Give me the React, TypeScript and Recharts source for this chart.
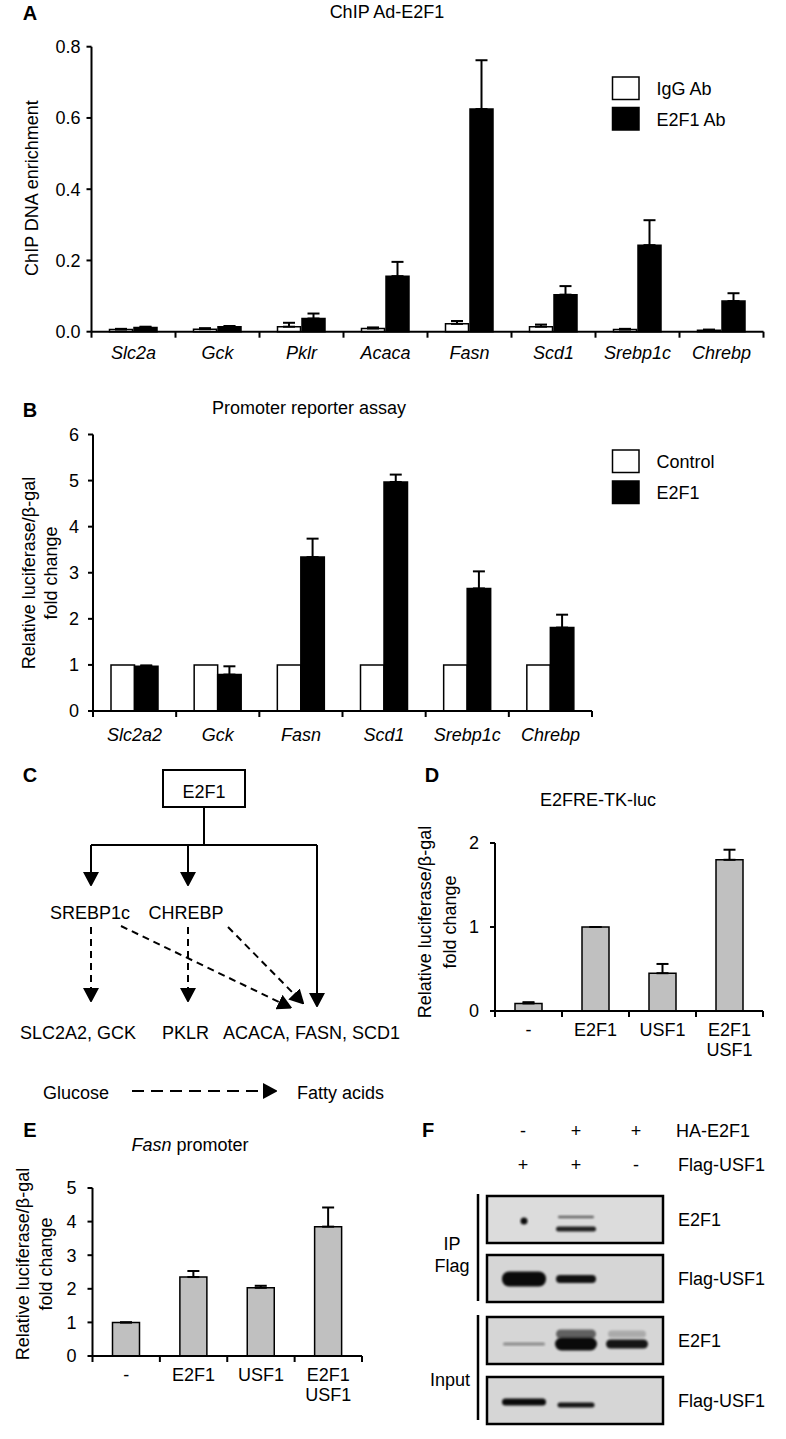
import React from 'react'
import { BarChart, Bar, XAxis, YAxis, ErrorBar } from 'recharts'

const FONT = '"Liberation Sans", Arial, Helvetica, sans-serif'

// A: ChIP Ad-E2F1
const chipGenes = ['Slc2a', 'Gck', 'Pklr', 'Acaca', 'Fasn', 'Scd1', 'Srebp1c', 'Chrebp']
const chipIgg = [0.006, 0.007, 0.014, 0.009, 0.022, 0.014, 0.006, 0.004]
const chipIggErr = [0.002, 0.003, 0.011, 0.003, 0.008, 0.006, 0.002, 0.002]
const chipE2f1 = [0.012, 0.014, 0.037, 0.156, 0.625, 0.104, 0.243, 0.086]
const chipE2f1Err = [0.002, 0.002, 0.014, 0.04, 0.137, 0.024, 0.07, 0.022]
const chipTicks = [0, 0.2, 0.4, 0.6, 0.8]
const chipSeries = ['IgG Ab', 'E2F1 Ab']

// B: promoter reporter assay
const repGenes = ['Slc2a2', 'Gck', 'Fasn', 'Scd1', 'Srebp1c', 'Chrebp']
const repControl = [1, 1, 1, 1, 1, 1]
const repE2f1 = [0.97, 0.79, 3.34, 4.97, 2.66, 1.81]
const repE2f1Err = [0.02, 0.18, 0.4, 0.16, 0.37, 0.28]
const repTicks = [0, 1, 2, 3, 4, 5, 6]
const repSeries = ['Control', 'E2F1']

// D: E2FRE-TK-luc
const groups = ['-', 'E2F1', 'USF1', 'E2F1\nUSF1']
const tkValues = [0.09, 1.0, 0.45, 1.8]
const tkErr = [0.015, 0, 0.11, 0.12]
const tkTicks = [0, 1, 2]

// E: Fasn promoter
const fasnValues = [1.0, 2.35, 2.03, 3.85]
const fasnErr = [0, 0.18, 0.06, 0.57]
const fasnTicks = [0, 1, 2, 3, 4, 5]

// F: co-IP
const haE2f1 = ['-', '+', '+']
const flagUsf1 = ['+', '+', '-']
const blotLabels = ['E2F1', 'Flag-USF1', 'E2F1', 'Flag-USF1']
// band signal per blot: lane, offset in blot, thickness, width, darkness
const blotBands = [
  [
    { lane: 0, dy: 25, h: 7, w: 7, k: 0.95 },
    { lane: 1, dy: 21, h: 2.5, w: 36, k: 0.55 },
    { lane: 1, dy: 33, h: 5, w: 40, k: 0.85 },
  ],
  [
    { lane: 0, dy: 24, h: 15, w: 44, k: 0.95 },
    { lane: 1, dy: 24, h: 8, w: 40, k: 0.92 },
  ],
  [
    { lane: 0, dy: 27, h: 3, w: 42, k: 0.35 },
    { lane: 1, dy: 17, h: 9, w: 40, k: 0.55 },
    { lane: 1, dy: 27, h: 13, w: 42, k: 0.95 },
    { lane: 2, dy: 17, h: 7, w: 38, k: 0.2 },
    { lane: 2, dy: 27, h: 9, w: 42, k: 0.9 },
  ],
  [
    { lane: 0, dy: 25, h: 7, w: 44, k: 0.95 },
    { lane: 1, dy: 28, h: 5, w: 37, k: 0.9 },
  ],
]

const chipData = chipGenes.map((g, i) => ({
  gene: g, igg: chipIgg[i], iggErr: [0, chipIggErr[i]], e2f1: chipE2f1[i], e2f1Err: [0, chipE2f1Err[i]],
}))
const repData = repGenes.map((g, i) => ({
  gene: g, control: repControl[i], e2f1: repE2f1[i], e2f1Err: [0, repE2f1Err[i]],
}))
const tkData = groups.map((g, i) => ({ group: g, v: tkValues[i], err: [0, tkErr[i]] }))
const fasnData = groups.map((g, i) => ({ group: g, v: fasnValues[i], err: [0, fasnErr[i]] }))

type Box = { left: number; top: number; width: number; height: number; x0: number; x1: number; yTop: number; yBottom: number }

const boxA: Box = { left: 0, top: 0, width: 786, height: 372, x0: 91.5, x1: 763.5, yTop: 46.7, yBottom: 331.7 }
const boxB: Box = { left: 0, top: 380, width: 600, height: 372, x0: 93, x1: 592, yTop: 434.5, yBottom: 711 }
const boxD: Box = { left: 400, top: 820, width: 386, height: 250, x0: 495, x1: 763, yTop: 843, yBottom: 1011 }
const boxE: Box = { left: 0, top: 1170, width: 400, height: 250, x0: 92.5, x1: 362, yTop: 1188, yBottom: 1356 }

const frame = (b: Box) => ({
  margin: { top: b.yTop - b.top, right: b.left + b.width - b.x1, bottom: 0, left: 0 },
  yWidth: b.x0 - b.left,
  xHeight: b.top + b.height - b.yBottom,
})

const axisStyle = { stroke: '#000', strokeWidth: 2 }

const makeTick = (b: Box, n: number, italic: boolean, labelDy: number) => (props: any) => {
  const { x, index, payload } = props
  const half = (b.x1 - b.x0) / n / 2
  const bottom = b.yBottom - b.top
  const lines = String(payload.value).split('\n')
  return (
    <g>
      <line x1={x - half} x2={x - half} y1={bottom} y2={bottom + 6} stroke="#000" strokeWidth={2} />
      {index === n - 1 && <line x1={x + half} x2={x + half} y1={bottom} y2={bottom + 6} stroke="#000" strokeWidth={2} />}
      <text x={x} y={bottom + labelDy} textAnchor="middle" fontFamily={FONT} fontSize={18} fontStyle={italic ? 'italic' : 'normal'} fill="#000">
        {lines.map((l, i) => (
          <tspan key={i} x={x} dy={i === 0 ? 0 : 20}>{l}</tspan>
        ))}
      </text>
    </g>
  )
}

function ChipChart() {
  const f = frame(boxA)
  return (
    <div style={{ position: 'absolute', left: boxA.left, top: boxA.top }}>
      <BarChart width={boxA.width} height={boxA.height} data={chipData} margin={f.margin} barSize={23} barGap={1.5}>
        <XAxis dataKey="gene" height={f.xHeight} axisLine={axisStyle} tickLine={false} tickSize={0} interval={0}
          tick={makeTick(boxA, chipGenes.length, true, 27)} />
        <YAxis width={f.yWidth} domain={[0, 0.8]} ticks={chipTicks} tickFormatter={(v: number) => v.toFixed(1)}
          axisLine={axisStyle} tickLine={axisStyle} tickSize={5} tickMargin={6}
          tick={{ fill: '#000', fontSize: 18, fontFamily: FONT }} />
        <Bar dataKey="igg" fill="#fff" stroke="#000" strokeWidth={1.5} isAnimationActive={false}>
          <ErrorBar dataKey="iggErr" width={6} stroke="#000" strokeWidth={2} direction="y" />
        </Bar>
        <Bar dataKey="e2f1" fill="#000" stroke="#000" strokeWidth={1.5} isAnimationActive={false}>
          <ErrorBar dataKey="e2f1Err" width={6} stroke="#000" strokeWidth={2} direction="y" />
        </Bar>
      </BarChart>
    </div>
  )
}

function ReporterChart() {
  const f = frame(boxB)
  return (
    <div style={{ position: 'absolute', left: boxB.left, top: boxB.top }}>
      <BarChart width={boxB.width} height={boxB.height} data={repData} margin={f.margin} barSize={23.5} barGap={0}>
        <XAxis dataKey="gene" height={f.xHeight} axisLine={axisStyle} tickLine={false} tickSize={0} interval={0}
          tick={makeTick(boxB, repGenes.length, true, 30)} />
        <YAxis width={f.yWidth} domain={[0, 6]} ticks={repTicks}
          axisLine={axisStyle} tickLine={axisStyle} tickSize={5} tickMargin={9}
          tick={{ fill: '#000', fontSize: 18, fontFamily: FONT }} />
        <Bar dataKey="control" fill="#fff" stroke="#000" strokeWidth={1.5} isAnimationActive={false} />
        <Bar dataKey="e2f1" fill="#000" stroke="#000" strokeWidth={1.5} isAnimationActive={false}>
          <ErrorBar dataKey="e2f1Err" width={6} stroke="#000" strokeWidth={2} direction="y" />
        </Bar>
      </BarChart>
    </div>
  )
}

function GrayChart({ box, data, ticks, max }: { box: Box; data: any[]; ticks: number[]; max: number }) {
  const f = frame(box)
  return (
    <div style={{ position: 'absolute', left: box.left, top: box.top }}>
      <BarChart width={box.width} height={box.height} data={data} margin={f.margin} barSize={27}>
        <XAxis dataKey="group" height={f.xHeight} axisLine={axisStyle} tickLine={false} tickSize={0} interval={0}
          tick={makeTick(box, groups.length, false, 25)} />
        <YAxis width={f.yWidth} domain={[0, max]} ticks={ticks}
          axisLine={axisStyle} tickLine={axisStyle} tickSize={5} tickMargin={11}
          tick={{ fill: '#000', fontSize: 18, fontFamily: FONT }} />
        <Bar dataKey="v" fill="#c0c0c0" stroke="#000" strokeWidth={1.5} isAnimationActive={false}>
          <ErrorBar dataKey="err" width={6} stroke="#000" strokeWidth={2} direction="y" />
        </Bar>
      </BarChart>
    </div>
  )
}

const T = (p: any) => <text fontFamily={FONT} fontSize={18} fill="#000" {...p} />
const Letter = ({ x, y, c }: { x: number; y: number; c: string }) => (
  <text x={x} y={y + 7} textAnchor="middle" fontFamily={FONT} fontSize={20} fontWeight="bold">{c}</text>
)

function YLabel({ x1, x2, y }: { x1: number; x2: number; y: number }) {
  return (
    <>
      <T x={x1} y={y} textAnchor="middle" transform={`rotate(-90 ${x1} ${y})`}>Relative luciferase/β-gal</T>
      <T x={x2} y={y} textAnchor="middle" transform={`rotate(-90 ${x2} ${y})`}>fold change</T>
    </>
  )
}

function Legend({ x, ys, names }: { x: number; ys: number[]; names: string[] }) {
  return (
    <>
      {names.map((n, i) => (
        <g key={n}>
          <rect x={x} y={ys[i]} width={26.5} height={22.5} fill={i === 0 ? '#fff' : '#000'} stroke="#000" strokeWidth={1.5} />
          <T x={x + 44} y={ys[i] + 18}>{n}</T>
        </g>
      ))}
    </>
  )
}

function Diagram() {
  const solid = { stroke: '#000', strokeWidth: 2, fill: 'none' }
  const dash = { ...solid, strokeDasharray: '7 5' }
  return (
    <g>
      <rect x={163} y={770} width={82} height={37} fill="#fff" stroke="#000" strokeWidth={2} />
      <T x={204} y={797.5} textAnchor="middle">E2F1</T>
      <path d="M204,807 V845 M91,845 H317" {...solid} />
      <path d="M91,845 V872" {...solid} markerEnd="url(#arr)" />
      <path d="M188,845 V872" {...solid} markerEnd="url(#arr)" />
      <path d="M317,845 V993" {...solid} markerEnd="url(#arr)" />
      <T x={90} y={918.5} textAnchor="middle">SREBP1c</T>
      <T x={186} y={918.5} textAnchor="middle">CHREBP</T>
      <path d="M91,927 V988" {...dash} markerEnd="url(#arr)" />
      <path d="M188,927 V988" {...dash} markerEnd="url(#arr)" />
      <path d="M121,926 L279,1002" {...dash} markerEnd="url(#arr)" />
      <path d="M228,927 L294,994" {...dash} markerEnd="url(#arr)" />
      <T x={20} y={1038.5}>SLC2A2, GCK</T>
      <T x={162} y={1038.5}>PKLR</T>
      <T x={223} y={1038.5}>ACACA, FASN, SCD1</T>
      <T x={43} y={1098.5}>Glucose</T>
      <path d="M132,1091 H263" stroke="#000" strokeWidth={2} strokeDasharray="12 7" markerEnd="url(#arr)" />
      <T x={297} y={1098.5}>Fatty acids</T>
    </g>
  )
}

function Blots() {
  const laneX = [524, 576, 627]
  const headX = [523, 576, 636]
  const tops = [1196, 1255, 1317, 1377]
  return (
    <g>
      {haE2f1.map((s, i) => <T key={'h' + i} x={headX[i]} y={1136.5} textAnchor="middle">{s}</T>)}
      {flagUsf1.map((s, i) => <T key={'f' + i} x={headX[i]} y={1170.5} textAnchor="middle">{s}</T>)}
      <T x={676} y={1136.5}>HA-E2F1</T>
      <T x={678} y={1170.5}>Flag-USF1</T>
      {tops.map((t, r) => (
        <g key={r}>
          <rect x={487} y={t} width={176} height={47} fill={r === 0 ? '#dcdcdc' : '#d6d6d6'} stroke="#000" strokeWidth={2.5} />
          {blotBands[r].map((b, j) => (
            <rect key={j} x={laneX[b.lane] - b.w / 2} y={t + b.dy - b.h / 2} width={b.w} height={b.h} rx={Math.min(b.h / 2, 7)}
              fill="#000" opacity={b.k} filter="url(#blur)" />
          ))}
          <T x={678} y={t + 30}>{blotLabels[r]}</T>
        </g>
      ))}
      <line x1={478} x2={478} y1={1194} y2={1301} stroke="#000" strokeWidth={2.5} />
      <line x1={478} x2={478} y1={1315} y2={1420} stroke="#000" strokeWidth={2.5} />
      <T x={452} y={1249.5} textAnchor="middle">IP</T>
      <T x={452} y={1271.5} textAnchor="middle">Flag</T>
      <T x={450} y={1385.5} textAnchor="middle">Input</T>
    </g>
  )
}

function Overlay() {
  return (
    <svg width={786} height={1439} style={{ position: 'absolute', left: 0, top: 0, pointerEvents: 'none' }}>
      <defs>
        <marker id="arr" viewBox="0 0 14 16" refX={0} refY={8} markerWidth={14} markerHeight={16} markerUnits="userSpaceOnUse" orient="auto">
          <path d="M0,0 L15,8 L0,16 z" fill="#000" />
        </marker>
        <filter id="blur" x="-20%" y="-50%" width="140%" height="200%">
          <feGaussianBlur stdDeviation={1.2} />
        </filter>
      </defs>
      <Letter x={30} y={13} c="A" />
      <T x={387} y={17.5} textAnchor="middle">ChIP Ad-E2F1</T>
      <T x={37.5} y={188} textAnchor="middle" transform="rotate(-90 37.5 188)">ChIP DNA enrichment</T>
      <Legend x={612.5} ys={[77, 107.5]} names={chipSeries} />

      <Letter x={30} y={410} c="B" />
      <T x={309} y={414} textAnchor="middle">Promoter reporter assay</T>
      <YLabel x1={35} x2={57} y={573} />
      <Legend x={612.5} ys={[450, 481]} names={repSeries} />

      <Letter x={30} y={775} c="C" />
      <Diagram />

      <Letter x={432} y={775} c="D" />
      <T x={598} y={806} textAnchor="middle">E2FRE-TK-luc</T>
      <YLabel x1={431} x2={456} y={922} />

      <Letter x={30} y={1130} c="E" />
      <T x={190} y={1151} textAnchor="middle"><tspan fontStyle="italic">Fasn</tspan> promoter</T>
      <YLabel x1={29} x2={52} y={1264} />

      <Letter x={428} y={1130} c="F" />
      <Blots />
    </svg>
  )
}

export default function App() {
  return (
    <div style={{ position: 'absolute', left: 0, top: 0, width: 786, height: 1439, background: '#fff', fontFamily: FONT }}>
      <ChipChart />
      <ReporterChart />
      <GrayChart box={boxD} data={tkData} ticks={tkTicks} max={2} />
      <GrayChart box={boxE} data={fasnData} ticks={fasnTicks} max={5} />
      <Overlay />
    </div>
  )
}
